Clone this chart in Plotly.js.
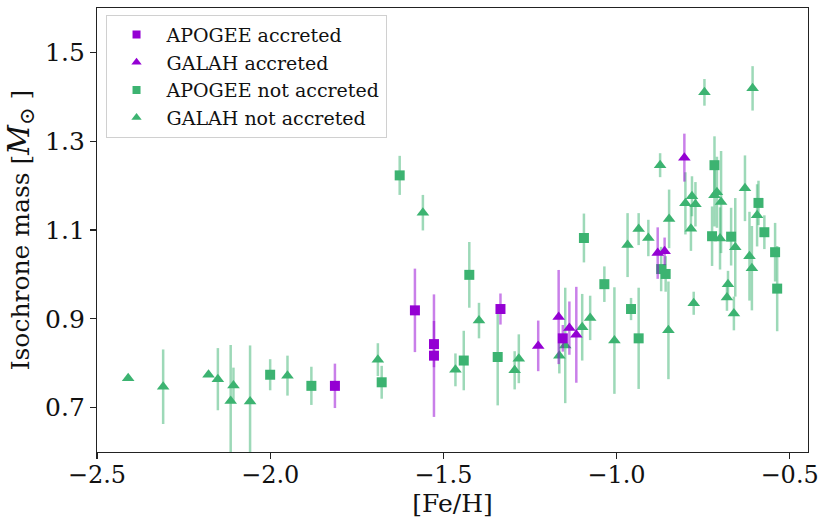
<!DOCTYPE html>
<html>
<head>
<meta charset="utf-8">
<script src="https://cdn.plot.ly/plotly-3.0.1.min.js"></script>
<style>html,body{margin:0;padding:0;background:#fff;}#chart{width:818px;height:519px;}</style>
</head>
<body>
<div id="chart"></div>
<script>
// APOGEE accreted (purple squares)
const apoAccFeH  = [-1.813, -1.582, -1.527, -1.527, -1.335, -1.155];
const apoAccMass = [0.749, 0.919, 0.843, 0.817, 0.922, 0.856];
const apoAccErr  = [0.050, 0.094, 0.052, 0.138, 0.035, 0.030];

// GALAH accreted (purple triangles)
const galAccFeH  = [-1.226, -1.167, -1.136, -1.116, -0.881, -0.861, -0.804];
const galAccMass = [0.839, 0.904, 0.879, 0.864, 1.048, 1.052, 1.263];
const galAccErr  = [0.057, 0.106, 0.060, 0.108, 0.058, 0.031, 0.054];

// APOGEE not accreted (green squares)
const apoNotFeH  = [-2.000, -1.881, -1.678, -1.626, -1.441, -1.425, -1.343, -1.094, -1.035, -0.958,
                    -0.936, -0.871, -0.858, -0.724, -0.717, -0.669, -0.590, -0.573, -0.542, -0.536];
const apoNotMass = [0.774, 0.749, 0.757, 1.223, 0.806, 0.999, 0.814, 1.082, 0.978, 0.922,
                    0.856, 1.012, 1.001, 1.086, 1.246, 1.085, 1.161, 1.095, 1.050, 0.968];
const apoNotErr  = [0.035, 0.043, 0.037, 0.044, 0.067, 0.074, 0.109, 0.055, 0.040, 0.025,
                    0.114, 0.050, 0.040, 0.067, 0.065, 0.065, 0.050, 0.038, 0.066, 0.096];

// GALAH not accreted (green triangles)
const galNotFeH  = [-2.410, -2.309, -2.178, -2.151, -2.114, -2.106, -2.058, -1.950, -1.689, -1.559,
                    -1.465, -1.397, -1.294, -1.282, -1.165, -1.148, -1.099, -1.076, -1.006, -0.968,
                    -0.936, -0.908, -0.874, -0.850, -0.848, -0.801, -0.785, -0.782, -0.777, -0.772,
                    -0.746, -0.717, -0.710, -0.701, -0.698, -0.681, -0.678, -0.661, -0.657, -0.629,
                    -0.616, -0.609, -0.607, -0.594];
const galNotMass = [0.766, 0.747, 0.774, 0.764, 0.715, 0.750, 0.714, 0.772, 0.808, 1.139,
                    0.785, 0.896, 0.784, 0.810, 0.817, 0.840, 0.881, 0.902, 0.851, 1.066,
                    1.102, 1.082, 1.246, 0.874, 1.125, 1.160, 1.103, 1.176, 0.935, 1.158,
                    1.410, 1.178, 1.185, 1.081, 1.163, 0.948, 0.978, 0.912, 1.061, 1.194,
                    1.041, 1.014, 1.419, 1.133];
const galNotErr  = [0.000, 0.084, 0.000, 0.070, 0.126, 0.040, 0.126, 0.045, 0.037, 0.040,
                    0.037, 0.040, 0.043, 0.055, 0.040, 0.130, 0.075, 0.050, 0.120, 0.072,
                    0.036, 0.041, 0.027, 0.110, 0.066, 0.070, 0.050, 0.045, 0.026, 0.050,
                    0.030, 0.070, 0.080, 0.070, 0.115, 0.030, 0.030, 0.038, 0.111, 0.074,
                    0.100, 0.095, 0.050, 0.070];

const legendNames = ['APOGEE accreted', 'GALAH accreted', 'APOGEE not accreted', 'GALAH not accreted'];
const xTickVals = [-2.5, -2.0, -1.5, -1.0, -0.5];
const xTickText = ['\u22122.5', '\u22122.0', '\u22121.5', '\u22121.0', '\u22120.5'];
const yTickVals = [0.7, 0.9, 1.1, 1.3, 1.5];
const yTickText = ['0.7', '0.9', '1.1', '1.3', '1.5'];

const PURPLE = '#9400d3', PURPLE_BAR = 'rgba(148,0,211,0.5)';
const GREEN = '#3cb371', GREEN_BAR = 'rgba(60,179,113,0.5)';
const FONT = 'DejaVu Serif';

function dataTrace(x, y, err, color, barColor, symbol, size) {
  return {
    type: 'scatter', mode: 'markers', x: x, y: y, showlegend: false, hoverinfo: 'x+y',
    marker: {symbol: symbol, size: size, color: color},
    error_y: {type: 'data', array: err, symmetric: true, visible: true,
              color: barColor, thickness: 2.5, width: 0}
  };
}
function legendTrace(name, color, symbol, size) {
  return {
    type: 'scatter', mode: 'markers', x: [null], y: [null], name: name,
    marker: {symbol: symbol, size: size, color: color}
  };
}

const traces = [
  dataTrace(galNotFeH, galNotMass, galNotErr, GREEN, GREEN_BAR, 'triangle-up', 11),
  dataTrace(apoNotFeH, apoNotMass, apoNotErr, GREEN, GREEN_BAR, 'square', 10),
  dataTrace(apoAccFeH, apoAccMass, apoAccErr, PURPLE, PURPLE_BAR, 'square', 10),
  dataTrace(galAccFeH, galAccMass, galAccErr, PURPLE, PURPLE_BAR, 'triangle-up', 11),
  legendTrace(legendNames[0], PURPLE, 'square', 8),
  legendTrace(legendNames[1], PURPLE, 'triangle-up', 9),
  legendTrace(legendNames[2], GREEN, 'square', 8),
  legendTrace(legendNames[3], GREEN, 'triangle-up', 9)
];

const axisCommon = {
  showline: true, mirror: true, linecolor: '#222', linewidth: 1.2,
  ticks: 'outside', ticklen: 6, tickwidth: 1.2, tickcolor: '#222',
  showgrid: false, zeroline: false, ticklabeloverflow: 'allow',
  tickfont: {family: FONT, size: 25, color: '#111'}
};

const layout = {
  width: 818, height: 519,
  margin: {l: 97, r: 10, t: 8, b: 67},
  paper_bgcolor: '#fff', plot_bgcolor: '#fff',
  font: {family: FONT, color: '#111'},
  xaxis: Object.assign({}, axisCommon, {
    range: [-2.5, -0.447], tickvals: xTickVals, ticktext: xTickText,
    ticklabelstandoff: -5,
    tickfont: {family: FONT, size: 24, color: '#111'},
    title: {text: '[Fe/H]', font: {family: FONT, size: 25, color: '#111'}, standoff: 2}
  }),
  yaxis: Object.assign({}, axisCommon, {
    range: [0.6, 1.6], tickvals: yTickVals, ticktext: yTickText,
    title: {
      text: 'Isochrone mass [<i><span style="font-size:29px">M</span></i><sub><span style="font-size:21px">\u2299</span></sub>\u00a0]',
      font: {family: FONT, size: 25, color: '#111'}, standoff: 8
    }
  }),
  legend: {
    x: 0.012, y: 0.985, xanchor: 'left', yanchor: 'top',
    bgcolor: 'rgba(255,255,255,0.8)', bordercolor: '#d0d0d0', borderwidth: 1,
    font: {family: FONT, size: 19, color: '#111'},
    itemwidth: 50
  }
};

Plotly.newPlot('chart', traces, layout, {displayModeBar: false, staticPlot: true});
</script>
</body>
</html>
